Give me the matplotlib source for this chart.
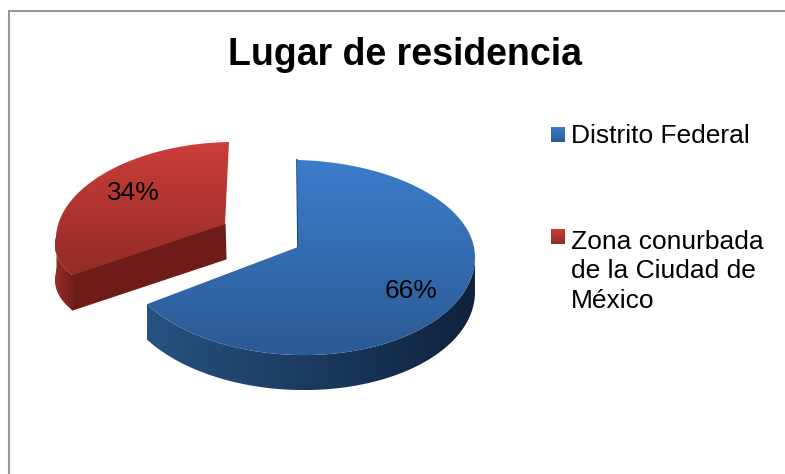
import matplotlib
matplotlib.use('Agg')
import matplotlib.pyplot as plt
import matplotlib.colors as mcolors
from matplotlib.patches import Polygon
import numpy as np

plt.rcParams['font.family'] = ['Liberation Sans', 'DejaVu Sans']

# Chart data
title = 'Lugar de residencia'
categories = ['Distrito Federal', 'Zona conurbada\nde la Ciudad de\nMéxico']
values = [66, 34]

depth = 35


def grad(ax, pts, c1, c2, horizontal=False, z=2):
    """Fill a polygon with a two colour gradient."""
    pts = np.array(pts)
    c1 = np.array(mcolors.to_rgb(c1))
    c2 = np.array(mcolors.to_rgb(c2))
    f = np.linspace(0, 1, 256)[:, None]
    arr = c1 + (c2 - c1) * f
    arr = arr[None, :, :] if horizontal else arr[:, None, :]
    x0, x1, y0, y1 = pts[:, 0].min(), pts[:, 0].max(), pts[:, 1].min(), pts[:, 1].max()
    im = ax.imshow(arr, extent=(x0, x1, y1, y0), aspect='auto', zorder=z, interpolation='bilinear')
    clip = Polygon(pts, closed=True, fc='none', ec='none', transform=ax.transData)
    ax.add_patch(clip)
    im.set_clip_path(clip)


def arc(t, cx, cy, rx, up, down, kx_up, kx_down, ky):
    """Point on the tilted rim of the pie, angle t in radians."""
    s, c = np.sin(t), np.cos(t)
    x = cx + rx * c + np.where(s > 0, kx_up, kx_down) * s
    y = cy - np.where(s > 0, up, down) * s + ky * c
    return np.column_stack([x, y])


fig = plt.figure(figsize=(7.85, 4.74), dpi=100)
ax = fig.add_axes([0, 0, 1, 1])
ax.axis('off')

# slice angles come from the values, first slice starts at 12 o'clock going clockwise
total = sum(values)
split = 90 - 360 * values[0] / total
blue_t = np.radians(np.linspace(split, 90, 300))
red_t = np.radians(np.linspace(90, split + 360, 200))

# red slice, pulled out
red_rim = arc(red_t, 225, 234, 169, 92, 72, 4, 19, -3)
red_vertex = np.array([225, 224])
red_tip = red_rim[-1]
side = red_rim[red_t > np.pi * 0.98]
grad(ax, np.vstack([side, side[::-1] + [0, depth]]), '#92302a', '#77201c', True, 2)
ax.add_patch(Polygon([red_vertex, red_tip, red_tip + [0, depth], red_vertex + [1, depth]],
                     fc='#6e1b19', ec='#6e1b19', lw=0.8, zorder=3))
grad(ax, np.vstack([red_vertex, red_rim]), '#cb3e3a', '#922b27', False, 4)

# blue slice
blue_rim = arc(blue_t, 297, 253, 178, 93, 102, 0, 0, 4)
blue_vertex = np.array([298, 247])
side = blue_rim[blue_t <= 0.02]
grad(ax, np.vstack([side, side[::-1] + [0, depth]]), '#265282', '#10223c', True, 5)
grad(ax, np.vstack([blue_vertex, blue_rim]), '#3c7dcb', '#2b5a94', False, 6)
ax.plot([blue_rim[-1][0], blue_vertex[0]], [blue_rim[-1][1], blue_vertex[1]],
        color='#1e3a5c', lw=1.2, zorder=5.5)

# percent labels
ax.text(411, 298, f'{values[0]}%', fontsize=19, ha='center', va='baseline', color='black', zorder=8)
ax.text(133, 200, f'{values[1]}%', fontsize=19, ha='center', va='baseline', color='black', zorder=8)

ax.text(405, 65, title, fontsize=27, fontweight='bold', ha='center', va='baseline', color='black')

# legend, baseline is the one of the last text line
swatches = [('#3c7dcb', '#2b5a94', 127, 143), ('#cb3e3a', '#922b27', 229, 308)]
for (c1, c2, y, base), label in zip(swatches, categories):
    grad(ax, [(551, y), (565, y), (565, y + 15), (551, y + 15)], c1, c2, False, 4)
    ax.text(571, base, label, fontsize=19, ha='left', va='baseline', linespacing=1.29, color='black')

# frame, only the left and top edges are inside the picture
ax.plot([8.5, 8.5, 785], [474, 11, 11], color='#969696', lw=1.5, zorder=1, solid_joinstyle='miter')

ax.set_xlim(0, 785)
ax.set_ylim(474, 0)
fig.savefig('out.png', dpi=100)
